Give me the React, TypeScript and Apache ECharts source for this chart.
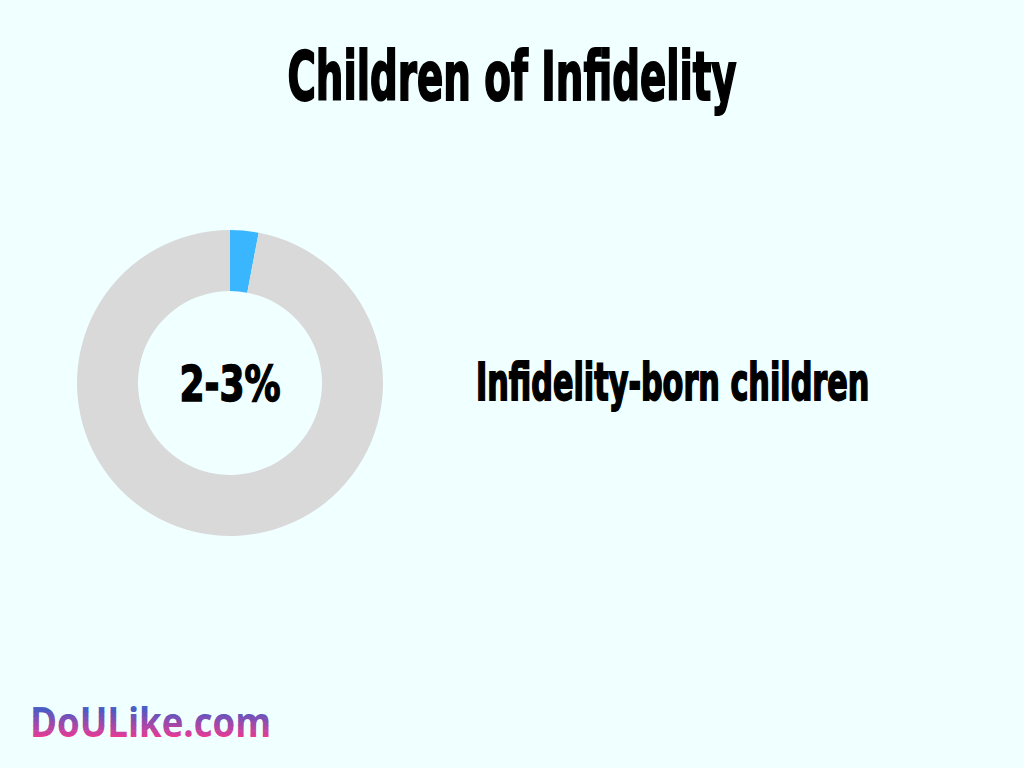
import React, { useEffect, useRef } from "react";
import * as echarts from "echarts";

const categories = ["Infidelity-born children", "Other children"];
const values = [3, 97];
const centerLabel = "2-3%";
const titleText = "Children of Infidelity";
const logoText = "DoULike.com";

const FONT = "'DejaVu Sans Condensed', 'DejaVu Sans', sans-serif";

function mix(a: number[], b: number[], t: number) {
  const c = a.map((v, i) => Math.round(v + (b[i] - v) * t));
  return `rgb(${c[0]},${c[1]},${c[2]})`;
}

export default function App() {
  const ref = useRef<HTMLDivElement>(null);
  useEffect(() => {
    document.body.style.margin = "0";
    if (!ref.current) return;
    const chart = echarts.init(ref.current, null, { renderer: "svg" });

    const top = [52, 96, 204];
    const bot = [232, 58, 148];
    const nBands = 10;
    const y0 = -23;
    const y1 = 23;
    const dh = (y1 - y0) / nBands;

    chart.setOption({
      animation: false,
      backgroundColor: "#F0FFFF",
      series: [
        {
          type: "pie",
          center: [230, 383],
          radius: [92, 153],
          startAngle: 90,
          clockwise: true,
          silent: true,
          label: { show: false },
          labelLine: { show: false },
          data: categories.map((c, i) => ({
            name: c,
            value: values[i],
            itemStyle: { color: i === 0 ? "#3AB6FF" : "#D9D9D9" },
          })),
        },
        {
          type: "custom",
          coordinateSystem: "none",
          silent: true,
          data: [0],
          renderItem: () => {
            const children = [];
            for (let k = 0; k < nBands; k++) {
              const yc = y0 + (k + 0.5) * dh;
              const t = Math.max(0, Math.min(1, (yc + 16) / 32));
              children.push({
                type: "text",
                style: {
                  text: logoText,
                  fontFamily: "'Open Sans', sans-serif",
                  fontWeight: "bold",
                  fontSize: 42,
                  fill: mix(top, bot, t),
                  textAlign: "left",
                  textVerticalAlign: "middle",
                },
                clipPath: {
                  type: "rect",
                  shape: { x: -10, y: y0 + k * dh, width: 400, height: dh + 0.6 },
                },
              });
            }
            return { type: "group", x: 30, y: 721, scaleX: 0.87, children };
          },
        },
      ],
      graphic: [
        {
          type: "text",
          x: 512,
          y: 76,
          scaleX: 0.634,
          style: {
            text: titleText,
            fontFamily: FONT,
            fontWeight: "bold",
            fontSize: 68,
            fill: "#000",
            stroke: "#000",
            lineWidth: 2,
            textAlign: "center",
            textVerticalAlign: "middle",
          },
        },
        {
          type: "text",
          x: 230,
          y: 384,
          scaleX: 0.8,
          style: {
            text: centerLabel,
            fontFamily: FONT,
            fontWeight: "bold",
            fontSize: 50,
            fill: "#000",
            stroke: "#000",
            lineWidth: 1.5,
            textAlign: "center",
            textVerticalAlign: "middle",
          },
        },
        {
          type: "text",
          x: 476,
          y: 382,
          scaleX: 0.66,
          style: {
            text: categories[0],
            fontFamily: FONT,
            fontWeight: "bold",
            fontSize: 51,
            fill: "#000",
            stroke: "#000",
            lineWidth: 1.8,
            textAlign: "left",
            textVerticalAlign: "middle",
          },
        },
      ],
    });
    return () => chart.dispose();
  }, []);
  return <div ref={ref} style={{ width: 1024, height: 768 }} />;
}
